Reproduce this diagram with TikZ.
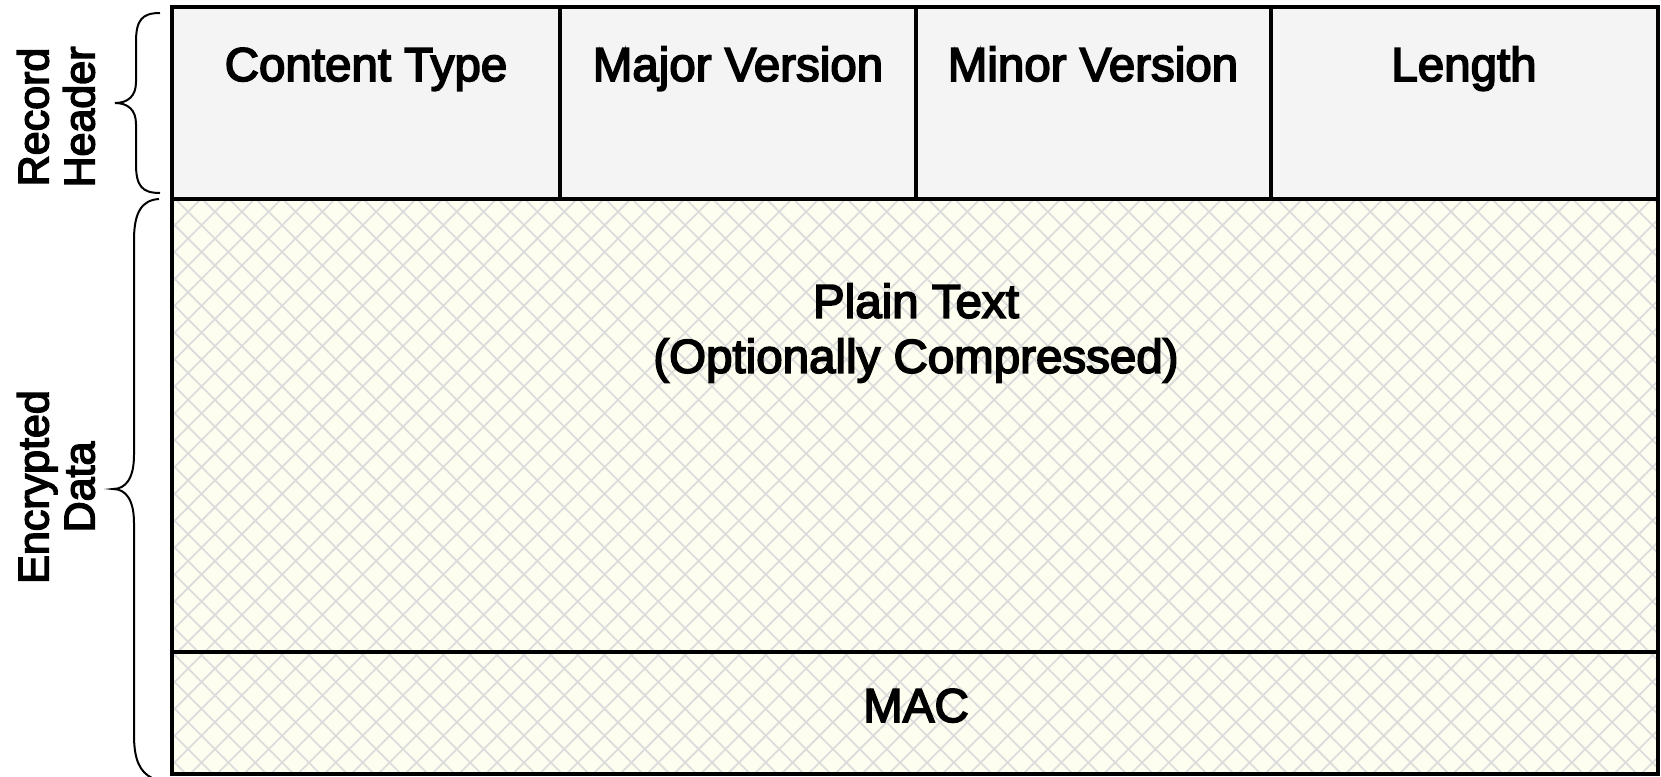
\documentclass[tikz,border=0pt]{standalone}
\usepackage{fontspec}
\setmainfont{Liberation Sans}[RawFeature={embolden=3.5}]
\usetikzlibrary{patterns.meta}

\definecolor{hdrgray}{HTML}{F4F4F4}
\definecolor{cream}{HTML}{FEFEF0}
\definecolor{hatchgray}{HTML}{DCDCDC}

\begin{document}
\begin{tikzpicture}[x=1pt,y=-1pt,
  box/.style={draw=black, line width=3.6pt},
  lbl/.style={font=\fontsize{47.5}{55}\selectfont, anchor=base, align=center},
  side/.style={font=\fontsize{43}{46}\selectfont, rotate=90, align=center},
  brc/.style={draw=black, line width=2pt}]
\useasboundingbox (0,0) rectangle (1661,776);

% fills
\fill[hdrgray] (172,7) rectangle (1658,199);
\fill[cream] (172,199) rectangle (1658,774);
\fill[pattern={Hatch[angle=45,distance=19pt,line width=1.8pt]}, pattern color=hatchgray]
  (172,199) rectangle (1658,774);

% header fields
\draw[box] (172,7) rectangle (560,199);
\draw[box] (560,7) rectangle (916,199);
\draw[box] (916,7) rectangle (1271,199);
\draw[box] (1271,7) rectangle (1658,199);

% payload
\draw[box] (172,199) rectangle (1658,652);
\draw[box] (172,652) rectangle (1658,774);

\node[lbl] (ctype) at (366,81) {Content Type};
\node[lbl] (major) at (738,81) {Major Version};
\node[lbl] (minor) at (1093,81) {Minor Version};
\node[lbl] (len) at (1464,81) {Length};

\node[lbl, anchor=center] (plain) at (916,333) {Plain Text\\(Optionally Compressed)};
\node[lbl] (mac) at (916,722) {MAC};

% braces
\draw[brc] (160,13) .. controls (142,13) and (136,20) .. (136,42) -- (136,82)
  .. controls (136,96) and (128,103) .. (115,103)
  .. controls (128,103) and (136,110) .. (136,124) -- (136,164)
  .. controls (136,186) and (142,193) .. (160,193);
\draw[brc] (159,199) .. controls (142,200) and (134,212) .. (134,240) -- (134,455)
  .. controls (134,478) and (126,489) .. (113,489)
  .. controls (126,489) and (134,500) .. (134,523) -- (134,735)
  .. controls (134,760) and (140,772) .. (152,778);

\node[side] (hdrlbl) at (56,117) {Record\\Header};
\node[side] (datalbl) at (56,487) {Encrypted\\Data};
\end{tikzpicture}
\end{document}
